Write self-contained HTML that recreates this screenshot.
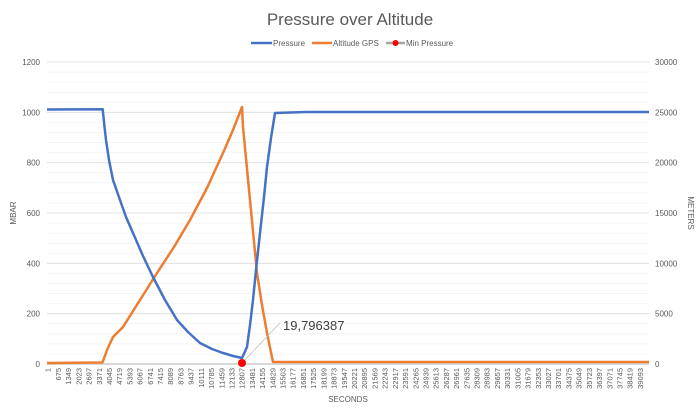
<!DOCTYPE html>
<html><head><meta charset="utf-8"><style>
body{margin:0;background:#fff;}
svg{display:block;font-family:"Liberation Sans",sans-serif;}
</style></head><body>
<svg width="700" height="414" viewBox="0 0 700 414">
<rect width="700" height="414" fill="#fff"/>
<text x="350" y="25" text-anchor="middle" font-size="17" fill="#595959">Pressure over Altitude</text>
<g font-size="8" fill="#595959">
<line x1="251" y1="43" x2="272" y2="43" stroke="#4472c4" stroke-width="2.5"/><text x="273" y="46">Pressure</text>
<line x1="312" y1="43" x2="332" y2="43" stroke="#ed7d31" stroke-width="2.5"/><text x="333" y="46">Altitude GPS</text>
<line x1="386" y1="43" x2="405" y2="43" stroke="#a5a5a5" stroke-width="2.5"/><circle cx="395.5" cy="43" r="3" fill="#f00"/><text x="406" y="46">Min Pressure</text>
</g>
<g stroke="#f0f0f0" stroke-width="1" id="grid"></g>
<g font-size="8" fill="#595959" id="labels"></g>
<line x1="47" y1="364" x2="649" y2="364" stroke="#d9d9d9" stroke-width="2"/>
<text transform="translate(16,213) rotate(-90)" font-size="8" fill="#595959" text-anchor="middle">MBAR</text>
<text transform="translate(688,213) rotate(90)" font-size="8" fill="#595959" text-anchor="middle">METERS</text>
<text x="348" y="402" font-size="8" fill="#595959" text-anchor="middle">SECONDS</text>
<polyline fill="none" stroke="#ed7d31" stroke-width="2.5" stroke-linejoin="round" points="47,363 102.5,362.5 107,350 113,337 123,327 140,300 157,273 174,247 190,220 207,188 223,153 233,130 242,107 243,127 250,200 257,273 262,305 267,333 273,362 649,362"/>
<polyline fill="none" stroke="#4472c4" stroke-width="2.5" stroke-linejoin="round" points="47,109.5 102.7,109.3 104,122 106,140 109,160 113,180 120,200 126,217 133,233 143,256 153,277 165,300 177,320 188,332 200,343 212,349 223,353 233,356 242,358 247,347 250,325 253,300 256,270 260,233 264,197 267,167 271,138 275,113 306,112 649,112"/>
<line x1="242" y1="363" x2="280" y2="323" stroke="#bfbfbf" stroke-width="0.8"/>
<text x="283" y="330" font-size="13" fill="#404040">19,796387</text>
<circle cx="242" cy="363" r="4" fill="#f00"/>
<script>
var g=document.getElementById('grid'),l=document.getElementById('labels'),ns='http://www.w3.org/2000/svg';
function el(p,t,a,tx){var e=document.createElementNS(ns,t);for(var k in a)e.setAttribute(k,a[k]);if(tx)e.textContent=tx;p.appendChild(e);}
for(var i=0;i<=30;i++){var y=62+i*10.067;if(i%5==0)el(g,'line',{x1:47,x2:649,y1:y,y2:y,stroke:'#e0e0e0'});else el(g,'line',{x1:47,x2:649,y1:y,y2:y,stroke:'#f4f4f4'});}
for(var i=0;i<=6;i++){var y=364-i*50.33;el(l,'text',{x:40,y:y+3,'text-anchor':'end'},String(i*200));el(l,'text',{x:655,y:y+3},String(i*5000));}
for(var i=0;i<59;i++){var v=1+i*674,x=47.7+i*10.21;el(l,'text',{transform:'translate('+(x+3)+',368) rotate(-90)','text-anchor':'end','font-size':'7.5'},String(v));}
</script>
</svg>
</body></html>
